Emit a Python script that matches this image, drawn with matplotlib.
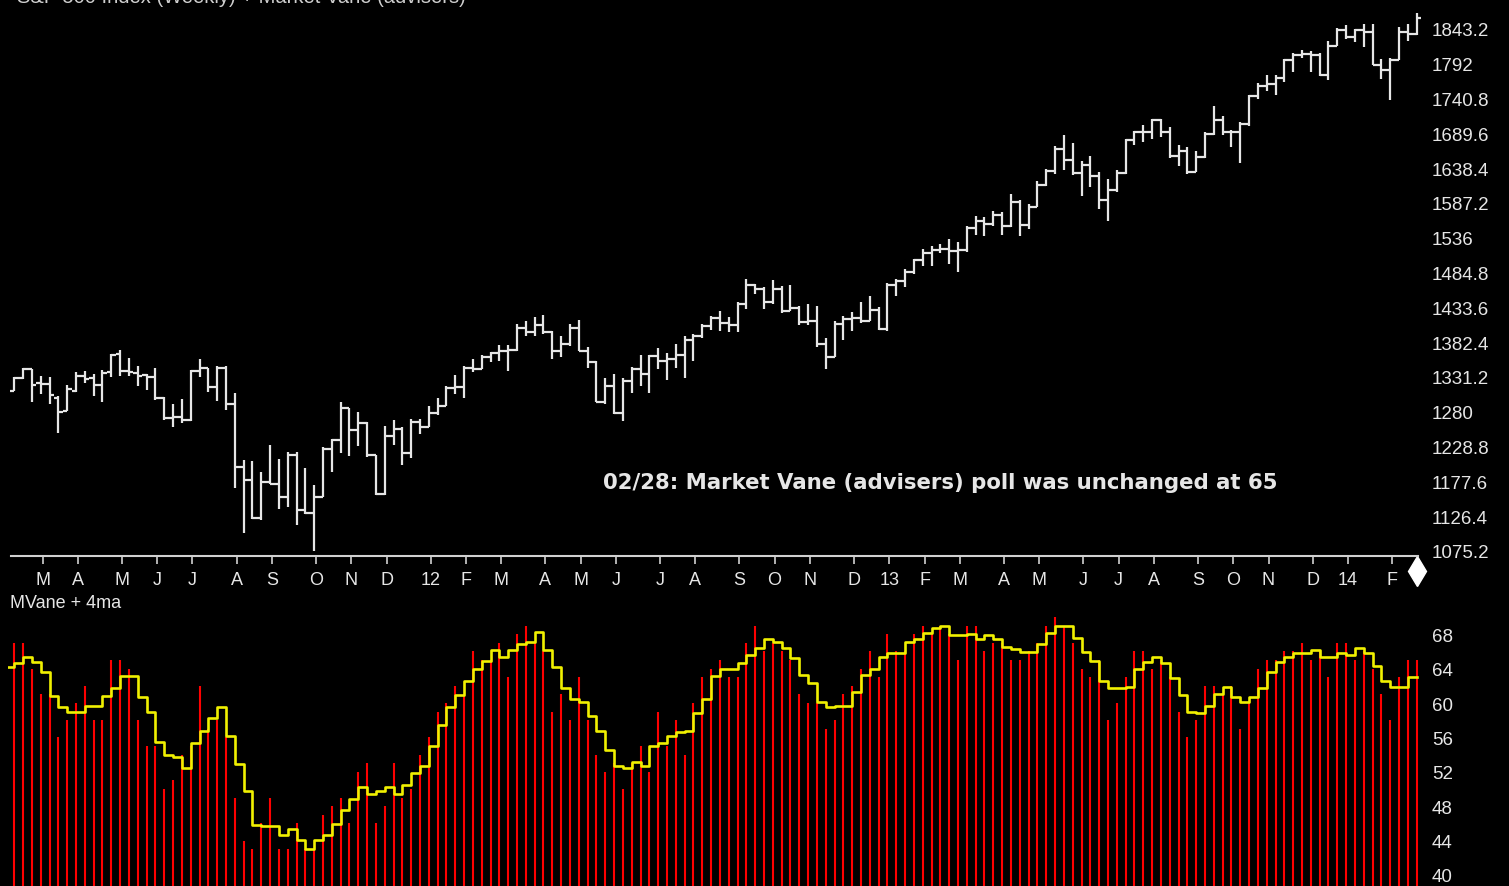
import numpy as np
import pandas as pd
import matplotlib
matplotlib.use("Agg")
import matplotlib.pyplot as plt
import matplotlib.transforms as mtransforms

plt.rcParams['font.family'] = ['Liberation Sans', 'DejaVu Sans']

# weekly S&P 500 bars, week ending Friday 2011-02-11 .. 2014-02-28
weeks = pd.date_range("2011-02-11", periods=160, freq="W-FRI")

opens = [1311, 1329, 1343, 1322, 1321, 1301, 1281, 1311, 1333, 1329,
         1319, 1338, 1365, 1340, 1337, 1334, 1331, 1300, 1271, 1272,
         1268, 1340, 1344, 1316, 1345, 1292, 1199, 1179, 1124, 1177,
         1174, 1154, 1216, 1136, 1131, 1155, 1225, 1238, 1285, 1253,
         1264, 1216, 1159, 1244, 1255, 1220, 1265, 1258, 1278, 1289,
         1315, 1316, 1345, 1343, 1361, 1366, 1370, 1371, 1404, 1397,
         1408, 1398, 1370, 1379, 1403, 1369, 1353, 1295, 1318, 1278,
         1326, 1343, 1335, 1362, 1355, 1357, 1363, 1386, 1391, 1406,
         1418, 1411, 1407, 1438, 1466, 1460, 1441, 1461, 1429, 1433,
         1412, 1414, 1380, 1360, 1409, 1416, 1418, 1414, 1430, 1402,
         1466, 1472, 1486, 1503, 1513, 1518, 1520, 1516, 1518, 1551,
         1561, 1557, 1569, 1553, 1589, 1555, 1582, 1614, 1634, 1667,
         1650, 1631, 1643, 1627, 1592, 1606, 1632, 1680, 1692, 1692,
         1710, 1691, 1656, 1664, 1633, 1655, 1688, 1710, 1692, 1691,
         1703, 1745, 1760, 1762, 1771, 1798, 1805, 1806, 1805, 1775,
         1818, 1841, 1831, 1842, 1839, 1790, 1783, 1797, 1839, 1836]
highs = [1331, 1344, 1343, 1332, 1331, 1303, 1320, 1338, 1340, 1336,
         1341, 1365, 1371, 1359, 1347, 1335, 1345, 1302, 1292, 1299,
         1341, 1357, 1344, 1347, 1347, 1307, 1209, 1208, 1191, 1231,
         1210, 1221, 1221, 1198, 1173, 1228, 1240, 1295, 1286, 1279,
         1265, 1216, 1259, 1268, 1258, 1269, 1269, 1288, 1300, 1318,
         1334, 1348, 1357, 1363, 1368, 1378, 1378, 1409, 1414, 1419,
         1422, 1399, 1392, 1409, 1415, 1375, 1355, 1330, 1335, 1330,
         1346, 1364, 1363, 1374, 1367, 1380, 1392, 1394, 1409, 1421,
         1428, 1419, 1441, 1475, 1468, 1463, 1474, 1465, 1466, 1436,
         1438, 1436, 1389, 1414, 1421, 1427, 1441, 1451, 1434, 1470,
         1475, 1490, 1505, 1519, 1524, 1527, 1534, 1530, 1554, 1568,
         1566, 1575, 1574, 1600, 1592, 1586, 1620, 1637, 1671, 1687,
         1676, 1649, 1656, 1633, 1622, 1635, 1682, 1693, 1702, 1711,
         1711, 1699, 1672, 1670, 1664, 1691, 1730, 1715, 1695, 1706,
         1746, 1763, 1775, 1775, 1799, 1808, 1813, 1811, 1808, 1826,
         1844, 1849, 1843, 1850, 1850, 1799, 1801, 1846, 1851, 1867]
lows = [1311, 1328, 1294, 1306, 1291, 1249, 1281, 1309, 1323, 1303,
        1295, 1331, 1332, 1333, 1318, 1312, 1298, 1268, 1258, 1263,
        1267, 1331, 1309, 1296, 1283, 1168, 1102, 1122, 1121, 1174,
        1137, 1140, 1114, 1130, 1075, 1155, 1191, 1220, 1215, 1229,
        1214, 1158, 1158, 1231, 1202, 1212, 1248, 1258, 1275, 1289,
        1306, 1300, 1338, 1343, 1353, 1355, 1340, 1370, 1392, 1392,
        1394, 1358, 1360, 1377, 1369, 1345, 1294, 1292, 1277, 1267,
        1307, 1318, 1307, 1343, 1327, 1345, 1330, 1354, 1389, 1401,
        1399, 1397, 1397, 1431, 1453, 1431, 1438, 1426, 1428, 1407,
        1407, 1375, 1343, 1360, 1386, 1399, 1411, 1413, 1401, 1399,
        1451, 1463, 1483, 1495, 1495, 1514, 1498, 1485, 1515, 1540,
        1539, 1553, 1540, 1552, 1538, 1549, 1581, 1612, 1630, 1636,
        1629, 1598, 1610, 1578, 1560, 1604, 1630, 1672, 1677, 1682,
        1684, 1654, 1642, 1630, 1633, 1654, 1687, 1687, 1670, 1646,
        1700, 1740, 1752, 1746, 1765, 1780, 1800, 1780, 1774, 1768,
        1818, 1828, 1824, 1816, 1790, 1770, 1738, 1797, 1826, 1834]
closes = [1329, 1343, 1320, 1321, 1304, 1279, 1314, 1332, 1328, 1320,
          1337, 1364, 1340, 1338, 1333, 1331, 1300, 1271, 1272, 1268,
          1340, 1344, 1316, 1345, 1292, 1199, 1179, 1124, 1177, 1174,
          1154, 1216, 1136, 1131, 1155, 1225, 1238, 1285, 1253, 1264,
          1216, 1159, 1244, 1255, 1220, 1265, 1258, 1278, 1289, 1315,
          1316, 1345, 1343, 1361, 1366, 1370, 1371, 1404, 1397, 1408,
          1398, 1370, 1379, 1403, 1369, 1353, 1295, 1318, 1278, 1326,
          1343, 1335, 1362, 1355, 1357, 1363, 1386, 1391, 1406, 1418,
          1411, 1407, 1438, 1466, 1460, 1441, 1461, 1429, 1433, 1412,
          1414, 1380, 1360, 1409, 1416, 1418, 1414, 1430, 1402, 1466,
          1472, 1486, 1503, 1513, 1518, 1520, 1516, 1518, 1551, 1561,
          1557, 1569, 1553, 1589, 1555, 1582, 1614, 1634, 1667, 1650,
          1631, 1643, 1627, 1592, 1606, 1632, 1680, 1692, 1692, 1710,
          1691, 1656, 1664, 1633, 1655, 1688, 1710, 1692, 1691, 1703,
          1745, 1760, 1762, 1771, 1798, 1805, 1806, 1805, 1775, 1818,
          1841, 1831, 1842, 1839, 1790, 1783, 1797, 1839, 1836, 1859]

# Market Vane advisers poll (%) and its 4-week average
mvane = [67, 67, 64, 61, 61, 56, 58, 60, 62, 58,
         58, 65, 65, 64, 58, 55, 55, 50, 51, 54,
         55, 62, 57, 58, 56, 49, 44, 43, 46, 49,
         43, 43, 46, 43, 43, 47, 48, 49, 46, 52,
         53, 46, 48, 53, 49, 50, 54, 56, 59, 60,
         62, 61, 66, 65, 65, 67, 63, 68, 69, 67,
         66, 59, 61, 58, 63, 58, 54, 52, 53, 50,
         53, 55, 52, 59, 55, 58, 54, 60, 63, 64,
         65, 63, 63, 67, 69, 66, 67, 66, 65, 61,
         60, 60, 57, 58, 61, 62, 64, 66, 63, 68,
         66, 66, 68, 69, 68, 69, 68, 65, 69, 69,
         66, 67, 67, 65, 65, 66, 67, 69, 70, 69,
         67, 64, 63, 65, 58, 60, 63, 66, 66, 64,
         65, 63, 59, 56, 58, 62, 62, 61, 62, 57,
         60, 64, 65, 65, 66, 66, 67, 65, 66, 63,
         67, 67, 65, 66, 64, 61, 58, 63, 65, 65]
mvane_4ma = [64.2, 64.65, 65.4, 64.8, 63.6, 60.85, 59.5, 59.0, 59.0, 59.7,
             59.7, 60.85, 61.7, 63.1, 63.1, 60.7, 59.0, 55.5, 53.95, 53.7,
             52.4, 55.35, 56.8, 58.25, 59.5, 56.2, 52.9, 49.8, 45.85, 45.7,
             45.65, 44.7, 45.35, 44.1, 43.0, 44.1, 44.7, 45.9, 47.55, 48.8,
             50.2, 49.4, 49.8, 50.2, 49.4, 50.5, 51.9, 52.7, 55.0, 57.45,
             59.5, 60.9, 62.55, 63.95, 64.85, 66.2, 65.4, 66.2, 66.86, 67.05,
             68.3, 66.2, 64.15, 61.7, 60.5, 60.1, 58.45, 56.8, 54.5, 52.7,
             52.4, 53.1, 52.7, 55.0, 55.35, 56.2, 56.6, 56.8, 58.8, 60.5,
             63.1, 63.95, 63.95, 64.6, 65.6, 66.4, 67.4, 67.05, 66.4, 65.2,
             63.3, 62.3, 60.1, 59.5, 59.7, 59.7, 61.3, 63.3, 63.95, 65.4,
             65.8, 65.8, 67.05, 67.4, 68.1, 68.7, 68.9, 67.9, 67.9, 68.06,
             67.4, 67.9, 67.5, 66.5, 66.3, 65.9, 65.9, 66.9, 68.1, 68.9,
             68.9, 67.6, 65.9, 64.85, 62.6, 61.7, 61.7, 61.9, 63.95, 64.8,
             65.4, 64.6, 62.9, 60.9, 59.0, 58.8, 59.7, 61.1, 61.9, 60.7,
             60.1, 60.7, 61.7, 63.6, 64.8, 65.4, 65.8, 65.8, 66.2, 65.4,
             65.4, 65.8, 65.6, 66.4, 65.8, 64.3, 62.55, 61.9, 61.9, 63.0]

price_ticks = [1075.2, 1126.4, 1177.6, 1228.8, 1280, 1331.2, 1382.4, 1433.6,
               1484.8, 1536, 1587.2, 1638.4, 1689.6, 1740.8, 1792, 1843.2]
price_labels = ["1075.2", "1126.4", "1177.6", "1228.8", "1280", "1331.2",
                "1382.4", "1433.6", "1484.8", "1536", "1587.2", "1638.4",
                "1689.6", "1740.8", "1792", "1843.2"]
vane_ticks = [40, 44, 48, 52, 56, 60, 64, 68]

title = "S&P 500 Index (Weekly) + Market Vane (advisers)"
note = "02/28: Market Vane (advisers) poll was unchanged at 65"

FG = "#e6e6e6"
idx = np.arange(len(weeks))

# month ticks: first week of each month, Jan shows the year
mpos, mlab = [], []
for i in range(1, len(weeks)):
    if weeks[i].month != weeks[i - 1].month:
        mpos.append(i + 0.2)
        d = weeks[i]
        mlab.append(f"{d.year % 100:02d}" if d.month == 1 else d.strftime("%b")[0])

fig = plt.figure(figsize=(15.09, 8.87), dpi=100, facecolor="black")
W, H = 1509, 887
ax1 = fig.add_axes([8 / W, (H - 557) / H, 1413 / W, 557 / H], facecolor="black")
ax2 = fig.add_axes([8 / W, 0, 1413 / W, (H - 612) / H], facecolor="black")

# OHLC bars
ax1.vlines(idx, lows, highs, color=FG, lw=1.6)
ax1.hlines(opens, idx - 0.5, idx, color=FG, lw=1.6)
ax1.hlines(closes, idx, idx + 0.5, color=FG, lw=1.6)
ax1.set_xlim(-0.714, 159.49)
ax1.set_ylim(1067.84, 1887.3)
for s in ("top", "left", "right"):
    ax1.spines[s].set_visible(False)
ax1.spines["bottom"].set_color("#d0d0d0")
ax1.spines["bottom"].set_linewidth(1.5)
ax1.spines["bottom"].set_bounds(-0.35, 159.2)
ax1.yaxis.tick_right()
ax1.set_yticks(price_ticks, price_labels)
ax1.set_xticks(mpos, mlab)
ax1.tick_params(axis="y", length=0, pad=8, labelsize=13.5, labelcolor=FG)
ax1.tick_params(axis="x", length=6, width=1.2, color="#d0d0d0", pad=4.5,
                labelsize=13, labelcolor=FG)
tr = mtransforms.blended_transform_factory(ax1.transData, ax1.transAxes)
ax1.plot([idx[-1]], [-0.027], marker="d", ms=15, color="white",
         transform=tr, clip_on=False)
ax1.text(66.7, 1177, note, color=FG, fontsize=15.3, fontweight="bold",
         family="DejaVu Sans", ha="left", va="center")
fig.text(17 / W, 1 - 3 / H, title, color="#cfcfcf", fontsize=14.5,
         ha="left", va="baseline")

# Market Vane panel
ax2.vlines(idx, 30, mvane, color="#ff0000", lw=1.5)
ax2.step(np.r_[-1, idx], np.r_[mvane_4ma[0], mvane_4ma], where="pre",
         color="#f0f000", lw=1.9)
ax2.set_xlim(-0.714, 159.49)
ax2.set_ylim(38.72, 70.7)
for s in ax2.spines.values():
    s.set_visible(False)
ax2.set_xticks([])
ax2.yaxis.tick_right()
ax2.set_yticks(vane_ticks)
ax2.tick_params(axis="y", length=0, pad=8, labelsize=13.5, labelcolor=FG)
fig.text(10 / W, 1 - 604 / H, "MVane + 4ma", color=FG, fontsize=13,
         ha="left", va="center")

fig.savefig("out.png", dpi=100, facecolor="black")
